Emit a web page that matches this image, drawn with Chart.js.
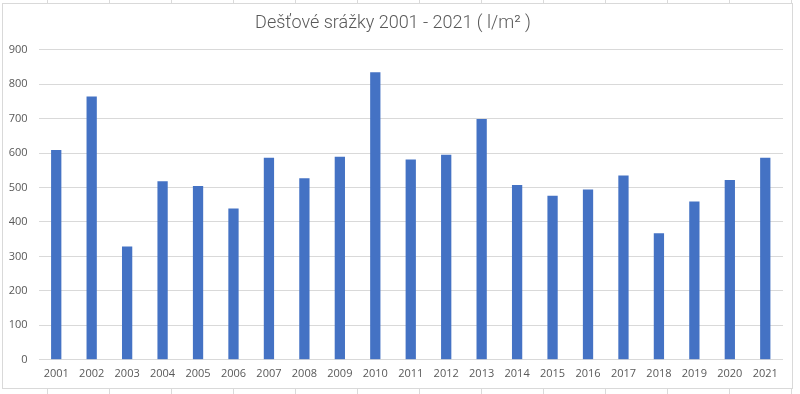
<!DOCTYPE html>
<html>
<head>
<meta charset="utf-8">
<script src="https://cdn.jsdelivr.net/npm/chart.js@4.4.1/dist/chart.umd.min.js"></script>
<style>
  html, body { margin: 0; padding: 0; }
  body {
    width: 800px; height: 394px; overflow: hidden; position: relative;
    background-color: #ffffff;
    background-image:
      repeating-linear-gradient(to right, transparent 0px, transparent 47px, #dadada 47px, #dadada 48px, transparent 48px, transparent 62px),
      repeating-linear-gradient(to bottom, transparent 0px, transparent 20px, #dadada 20px, #dadada 21px, transparent 21px, transparent 20px);
    background-size: 62px 394px, 800px 20px;
    background-position: 0 0, 0 0;
  }
  #box {
    position: absolute; left: 2px; top: 3px; width: 789px; height: 384px;
    border: 1px solid #d9d9d9; background: #ffffff;
  }
  canvas { display: block; }
</style>
</head>
<body>
<div id="box"><canvas id="c" width="789" height="384"></canvas></div>
<script>
const titleText = "Dešťové srážky 2001 - 2021 ( l/m² )";
const years = ["2001","2002","2003","2004","2005","2006","2007","2008","2009","2010","2011","2012","2013","2014","2015","2016","2017","2018","2019","2020","2021"];
const rainfall = [609, 764, 329, 518, 504, 439, 586, 527, 589, 834, 581, 595, 699, 507, 476, 494, 535, 367, 459, 522, 586];
const yMin = 0;
const yMax = 900;
const yStep = 100;

const tickFont = { family: "'Open Sans', 'Liberation Sans', sans-serif", size: 11 };

new Chart(document.getElementById('c'), {
  type: 'bar',
  data: {
    labels: years,
    datasets: [{
      data: rainfall,
      backgroundColor: '#4472C4',
      borderWidth: 0,
      categoryPercentage: 1.0,
      barPercentage: 0.29
    }]
  },
  options: {
    responsive: false,
    animation: false,
    devicePixelRatio: 1,
    layout: { padding: { left: 0, right: 9, top: 9, bottom: 1 } },
    plugins: {
      legend: { display: false },
      tooltip: { enabled: false },
      title: {
        display: true,
        text: titleText,
        color: '#595959',
        font: { family: "Roboto, 'Open Sans', sans-serif", size: 18, weight: '300' },
        padding: { top: 0, bottom: 15 }
      }
    },
    scales: {
      x: {
        grid: { display: false, drawTicks: false },
        border: { display: false },
        ticks: { color: '#595959', font: tickFont, padding: 7, maxRotation: 0, autoSkip: false }
      },
      y: {
        min: yMin, max: yMax,
        afterFit: (s) => { s.width = 35.5; },
        grid: { color: '#d9d9d9', lineWidth: 1, drawTicks: false },
        border: { display: false },
        ticks: { stepSize: yStep, color: '#595959', font: tickFont, padding: 11 }
      }
    }
  }
});
</script>
</body>
</html>
